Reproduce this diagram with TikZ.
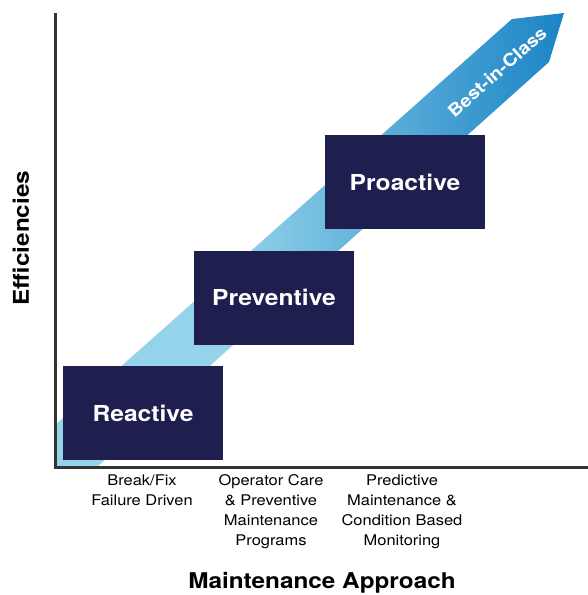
\documentclass[tikz,border=0pt]{standalone}
\usepackage{fontspec}
\setmainfont[FakeStretch=1.12]{TeX Gyre Heros}
\definecolor{navy}{HTML}{1E1F4E}
\definecolor{lb}{HTML}{94D3E9}
\definecolor{db}{HTML}{1B84C6}
\definecolor{axisc}{HTML}{333333}
\pgfdeclarehorizontalshading{bandshade}{100bp}{color(0bp)=(lb); color(42bp)=(lb); color(75bp)=(db); color(100bp)=(db)}
\begin{document}
\begin{tikzpicture}[x=1pt,y=-1pt,
  stage/.style={fill=navy, text=white, minimum width=160pt, minimum height=94pt, inner sep=0pt, font=\fontsize{22}{26}\selectfont\bfseries},
  lbl/.style={align=center, inner sep=0pt, anchor=north, font=\fontsize{14.7}{20}\selectfont},
  title/.style={font=\fontsize{21.7}{26}\selectfont\bfseries, inner sep=0pt},
  axisline/.style={draw=axisc, line width=3pt}]
\useasboundingbox (0,0) rectangle (588,595);
% band arrow
\shade[shading=bandshade] (55,425) -- (512,19) -- (564,13) -- (549,62) -- (97,467) -- (55,467) -- cycle;
\node[rotate=41.7, text=white, font=\fontsize{17.5}{20}\selectfont\bfseries, inner sep=0pt] (bic) at (497,72) {Best-in-Class};
% axes
\coordinate (top) at (55,13);
\coordinate (O) at (55,467.5);
\coordinate (right) at (588,467.5);
\draw[axisline] (top) -- (O) -- (right);
% stages
\node[stage] (reactive) at (143,413) {Reactive};
\node[stage] (preventive) at (274,297.5) {Preventive};
\node[stage] (proactive) at (405,182) {Proactive};
% labels
\node[lbl] (l1) at (142,474.5) {Break/Fix\\Failure Driven};
\node[lbl] (l2) at (271,474.5) {Operator Care\\\& Preventive\\Maintenance\\Programs};
\node[lbl] (l3) at (402,474.5) {Predictive\\Maintenance \&\\Condition Based\\Monitoring};
\node[title] (xt) at (322,583) {Maintenance Approach};
\node[title, rotate=90] (yt) at (21,238) {Efficiencies};
\end{tikzpicture}
\end{document}
